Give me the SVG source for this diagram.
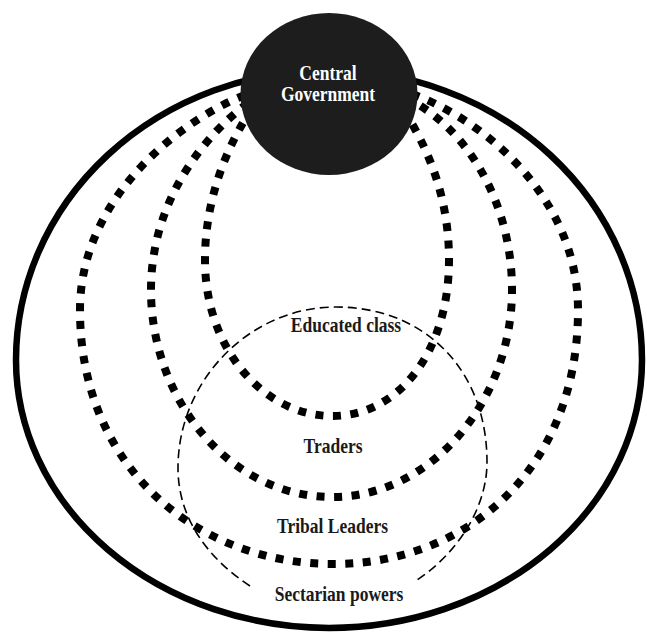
<svg xmlns="http://www.w3.org/2000/svg" width="647" height="634" viewBox="0 0 647 634">
<style>
.outer{fill:none;stroke:#000;stroke-width:6.5}
.dot{fill:none;stroke:#000;stroke-width:8;stroke-dasharray:8 9.5}
.dash{fill:none;stroke:#000;stroke-width:1.6;stroke-dasharray:9 5}
.lbl{font-family:"Liberation Serif","Times New Roman",serif;font-weight:bold;font-size:17.5px;fill:#1a1a1a;text-anchor:middle}
.cg{fill:#fff}
</style>
<rect width="647" height="634" fill="#fff"/>
<g id="outer-boundary">
<path class="outer" d="M16,360 A313,290 0 0 1 642,360 A313,268 0 0 1 16,360 Z"/>
</g>
<g id="connectors">
<path id="educated-loop" class="dot" d="M252,108 C226,148 205,200 205,260 C205,350 265,416 332,416 C400,416 449,350 449,260 C449,200 430,152 405,112"/>
<path id="traders-loop" class="dot" d="M248,103 C205,135 151,200 151,290 C151,400 230,497 332,497 C432,497 512,400 512,290 C512,200 465,128 410,100"/>
<path id="tribal-loop" class="dot" d="M245,95 C185,118 80,195 80,310 C80,470 200,564 333,564 C466,564 578,470 578,310 C578,195 480,118 412,94"/>
</g>
<g id="sectarian-powers">
<path class="dash" d="M250,586 C210,560 178,520 178,468 C178,380 250,307 336,307 C425,307 487,370 487,462 C487,510 455,555 417,580"/>
<text class="lbl" transform="translate(339,600.7) scale(1,1.15)">Sectarian powers</text>
</g>
<g id="central-government">
<ellipse cx="329" cy="94" rx="88.5" ry="81" fill="#1d1d1d"/>
<text class="lbl cg" transform="translate(328,80) scale(1,1.18)">Central</text>
<text class="lbl cg" transform="translate(328,100.5) scale(1,1.18)">Government</text>
</g>
<g id="educated-class">
<text class="lbl" transform="translate(346,331.7) scale(1,1.15)">Educated class</text>
</g>
<g id="traders">
<text class="lbl" transform="translate(333,453.3) scale(1,1.15)">Traders</text>
</g>
<g id="tribal-leaders">
<text class="lbl" transform="translate(332.5,533.3) scale(1,1.15)">Tribal Leaders</text>
</g>
</svg>
